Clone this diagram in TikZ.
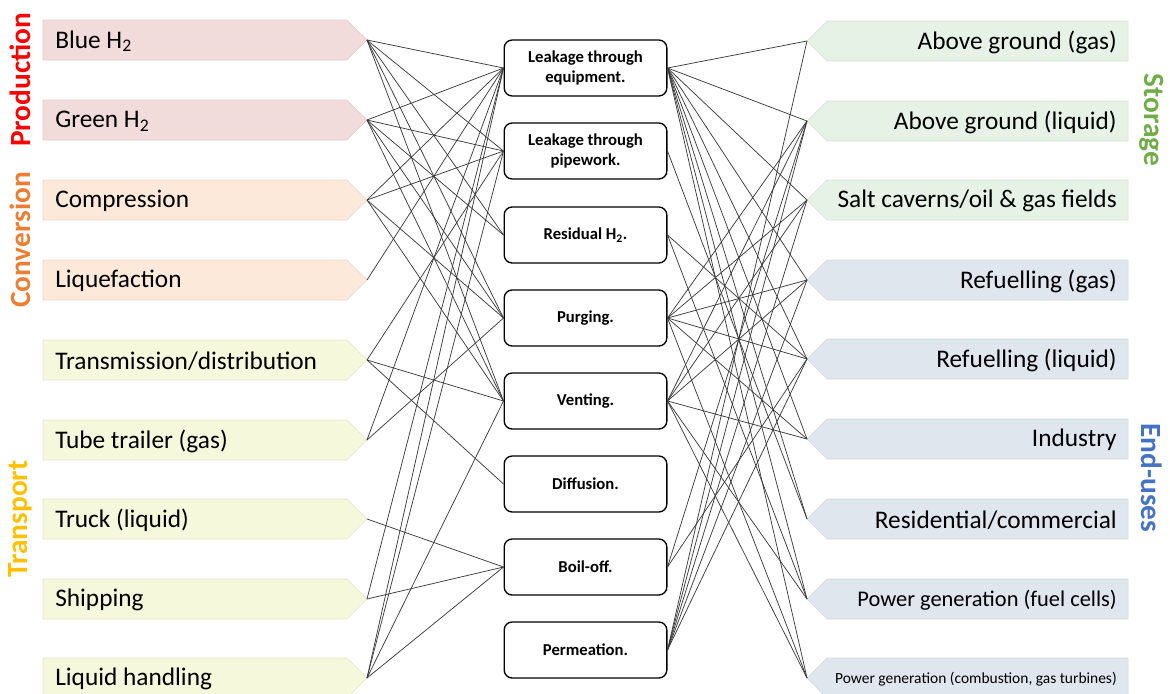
\documentclass[tikz,border=0pt]{standalone}
\usepackage{fontspec}
\setmainfont{Carlito}
\definecolor{prodfill}{HTML}{F2DCDB}
\definecolor{convfill}{HTML}{FDE9D9}
\definecolor{tranfill}{HTML}{F6F8DC}
\definecolor{storfill}{HTML}{E6F2E5}
\definecolor{endfill}{HTML}{DFE6EE}
\definecolor{prodtxt}{HTML}{FF0000}
\definecolor{convtxt}{HTML}{ED7D31}
\definecolor{trantxt}{HTML}{FFC000}
\definecolor{stortxt}{HTML}{70AD47}
\definecolor{endtxt}{HTML}{4472C4}
\definecolor{linkcol}{HTML}{3A3A3A}
\tikzset{
  srcbox/.style={fill=#1, draw=#1!85!gray, line width=0.4pt},
  srclabel/.style={anchor=west, inner sep=0pt, font=\fontsize{19}{22}\selectfont},
  uselabel/.style={anchor=east, inner sep=0pt, font=\fontsize{19}{22}\selectfont},
  emission/.style={draw=black, line width=1pt, rounded corners=6pt, fill=white,
    minimum width=122pt, minimum height=42pt, align=center, inner sep=1pt,
    font=\fontsize{12.5}{15}\selectfont\bfseries},
  stage/.style={font=\fontsize{22}{24}\selectfont\bfseries, inner sep=0pt},
  link/.style={draw=linkcol, line width=0.55pt}
}
\begin{document}
\begin{tikzpicture}[x=0.75pt,y=-0.75pt]
\useasboundingbox (0,0) rectangle (1170,693);

% value-chain sources (left, pointing right)
\foreach \nm/\yy/\col/\txt in {
  blue/40/prodfill/{Blue H\textsubscript{2}},
  green/120/prodfill/{Green H\textsubscript{2}},
  comp/200/convfill/{Compression},
  liqf/280/convfill/{Liquefaction},
  trans/360/tranfill/{Transmission/distribution},
  tube/440/tranfill/{Tube trailer (gas)},
  truck/519/tranfill/{Truck (liquid)},
  ship/599/tranfill/{Shipping},
  lhand/678/tranfill/{Liquid handling}}{
  \path[srcbox=\col] (43,\yy-20) -- (347,\yy-20) -- (367,\yy) -- (347,\yy+20) -- (43,\yy+20) -- cycle;
  \node[srclabel] (\nm) at (55,\yy+1) {\txt};
  \coordinate (\nm-tip) at (367,\yy);
}

% storage and end uses (right, pointing left)
\foreach \nm/\yy/\col/\txt in {
  aggas/41/storfill/{Above ground (gas)},
  agliq/121/storfill/{Above ground (liquid)},
  salt/200/storfill/{Salt caverns/oil \& gas fields},
  refgas/280/endfill/{Refuelling (gas)},
  refliq/359/endfill/{Refuelling (liquid)},
  indus/439/endfill/{Industry},
  resid/519/endfill/{Residential/commercial}}{
  \path[srcbox=\col] (1128,\yy-20) -- (827,\yy-20) -- (807,\yy) -- (827,\yy+20) -- (1128,\yy+20) -- cycle;
  \node[uselabel] (\nm) at (1117,\yy+1) {\txt};
  \coordinate (\nm-tip) at (807,\yy);
}
\path[srcbox=endfill] (1128,579) -- (827,579) -- (807,599) -- (827,619) -- (1128,619) -- cycle;
\node[uselabel, font=\fontsize{16.8}{19}\selectfont] (pwfc) at (1117,600) {Power generation (fuel cells)};
\coordinate (pwfc-tip) at (807,599);
\path[srcbox=endfill] (1128,658) -- (827,658) -- (807,678) -- (827,698) -- (1128,698) -- cycle;
\node[uselabel, font=\fontsize{11.6}{13}\selectfont] (pwcb) at (1117,679) {Power generation (combustion, gas turbines)};
\coordinate (pwcb-tip) at (807,678);

% emission mechanisms (centre)
\node[emission] (equip) at (585.5,68) {Leakage through\\equipment.};
\node[emission] (pipe) at (585.5,151) {Leakage through\\pipework.};
\node[emission] (resid2) at (585.5,235) {Residual H\textsubscript{2}.};
\node[emission] (purge) at (585.5,318) {Purging.};
\node[emission] (vent) at (585.5,401) {Venting.};
\node[emission] (diff) at (585.5,484) {Diffusion.};
\node[emission] (boil) at (585.5,567) {Boil-off.};
\node[emission] (perm) at (585.5,650) {Permeation.};

% stage captions
\node[stage, text=prodtxt, rotate=90] (capprod) at (20,80) {Production};
\node[stage, text=convtxt, rotate=90] (capconv) at (20,240) {Conversion};
\node[stage, text=trantxt, rotate=90] (captran) at (20,519) {Transport};
\node[stage, text=stortxt, rotate=-90] (capstor) at (1152,120) {Storage};
\node[stage, text=endtxt, rotate=-90] (capend) at (1152,478) {End-uses};

% sources to emission mechanisms
\foreach \s/\t in {
  blue/equip, blue/pipe, blue/resid2, blue/purge, blue/vent,
  green/equip, green/pipe, green/resid2, green/purge, green/vent,
  comp/equip, comp/pipe, comp/purge, comp/vent,
  liqf/equip,
  trans/pipe, trans/vent, trans/diff,
  tube/equip, tube/purge,
  truck/boil,
  ship/equip, ship/boil,
  lhand/equip, lhand/pipe, lhand/vent, lhand/boil}{
  \draw[link] (\s-tip) -- (\t.west);
}
% emission mechanisms to storage and end uses
\foreach \s/\t in {
  equip/aggas, equip/agliq, equip/salt, equip/refgas, equip/refliq,
  equip/indus, equip/resid, equip/pwfc, equip/pwcb,
  pipe/resid,
  resid2/refliq, resid2/pwfc,
  purge/agliq, purge/salt, purge/refgas, purge/refliq, purge/indus, purge/pwcb,
  vent/agliq, vent/salt, vent/refgas, vent/indus, vent/pwfc, vent/pwcb,
  boil/agliq, boil/refliq,
  perm/aggas, perm/agliq, perm/salt, perm/refgas, perm/refliq}{
  \draw[link] (\s.east) -- (\t-tip);
}
\end{tikzpicture}
\end{document}
